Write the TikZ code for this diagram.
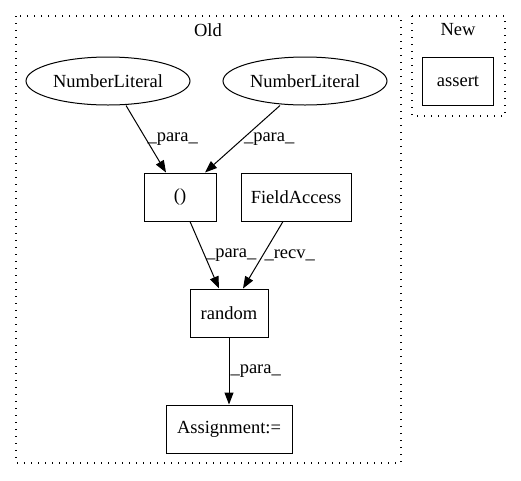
\documentclass[tikz,border=0pt]{standalone}
\usepackage{fontspec}
\setmainfont{Liberation Serif}
\usetikzlibrary{arrows.meta,shapes.geometric}

\tikzset{
  every node/.style={font=\fontsize{18.5}{20}\selectfont},
  box/.style={draw, line width=1pt, minimum height=48pt, inner sep=0pt},
  lit/.style={draw, ellipse, line width=1pt, minimum width=164pt, minimum height=48pt, inner sep=0pt},
  clus/.style={line width=1.1pt, dash pattern=on 1.2pt off 5.8pt},
  link/.style={line width=1pt, -{Triangle[length=12pt, width=9pt]}},
  lbl/.style={right, inner sep=1pt}
}

\begin{document}
\begin{tikzpicture}[x=1pt, y=-1pt]
    \useasboundingbox (0, 0) rectangle (521, 480);

    %% clusters
    \draw[clus](16, 16) rectangle (401, 463);
    \node (old) at (208, 30){Old};
    \draw[clus](412, 16) rectangle (505, 116);
    \node (new) at (458, 30){New};

    %% new side
    \node[box, minimum width=71pt] (assert) at (458, 81){assert};

    %% old side
    \node[lit] (num1) at (108, 81){NumberLiteral};
    \node[lit] (num2) at (305, 81){NumberLiteral};

    \node[box, minimum width=72pt] (paren) at (180, 197){()};
    \node[box, minimum width=110pt] (field) at (296, 197){FieldAccess};

    \node[box, minimum width=78pt] (rand) at (229, 313){random};
    \node[box, minimum width=126pt] (assign) at (229, 429){Assignment:=};

    %% edges
    \draw[link]([xshift=18pt]num1.south) to node[lbl]{\_para\_} ([xshift=-14pt]paren.north);
    \draw[link]([xshift=-25pt]num2.south) to node[lbl]{\_para\_} ([xshift=25pt]paren.north);

    \draw[link]([xshift=10pt]paren.south) to node[lbl]{\_para\_} ([xshift=-10pt]rand.north);
    \draw[link]([xshift=-13pt]field.south) to node[lbl]{\_recv\_} ([xshift=14pt]rand.north);

    \draw[link](rand) to node[lbl]{\_para\_} (assign);

\end{tikzpicture}
\end{document}
